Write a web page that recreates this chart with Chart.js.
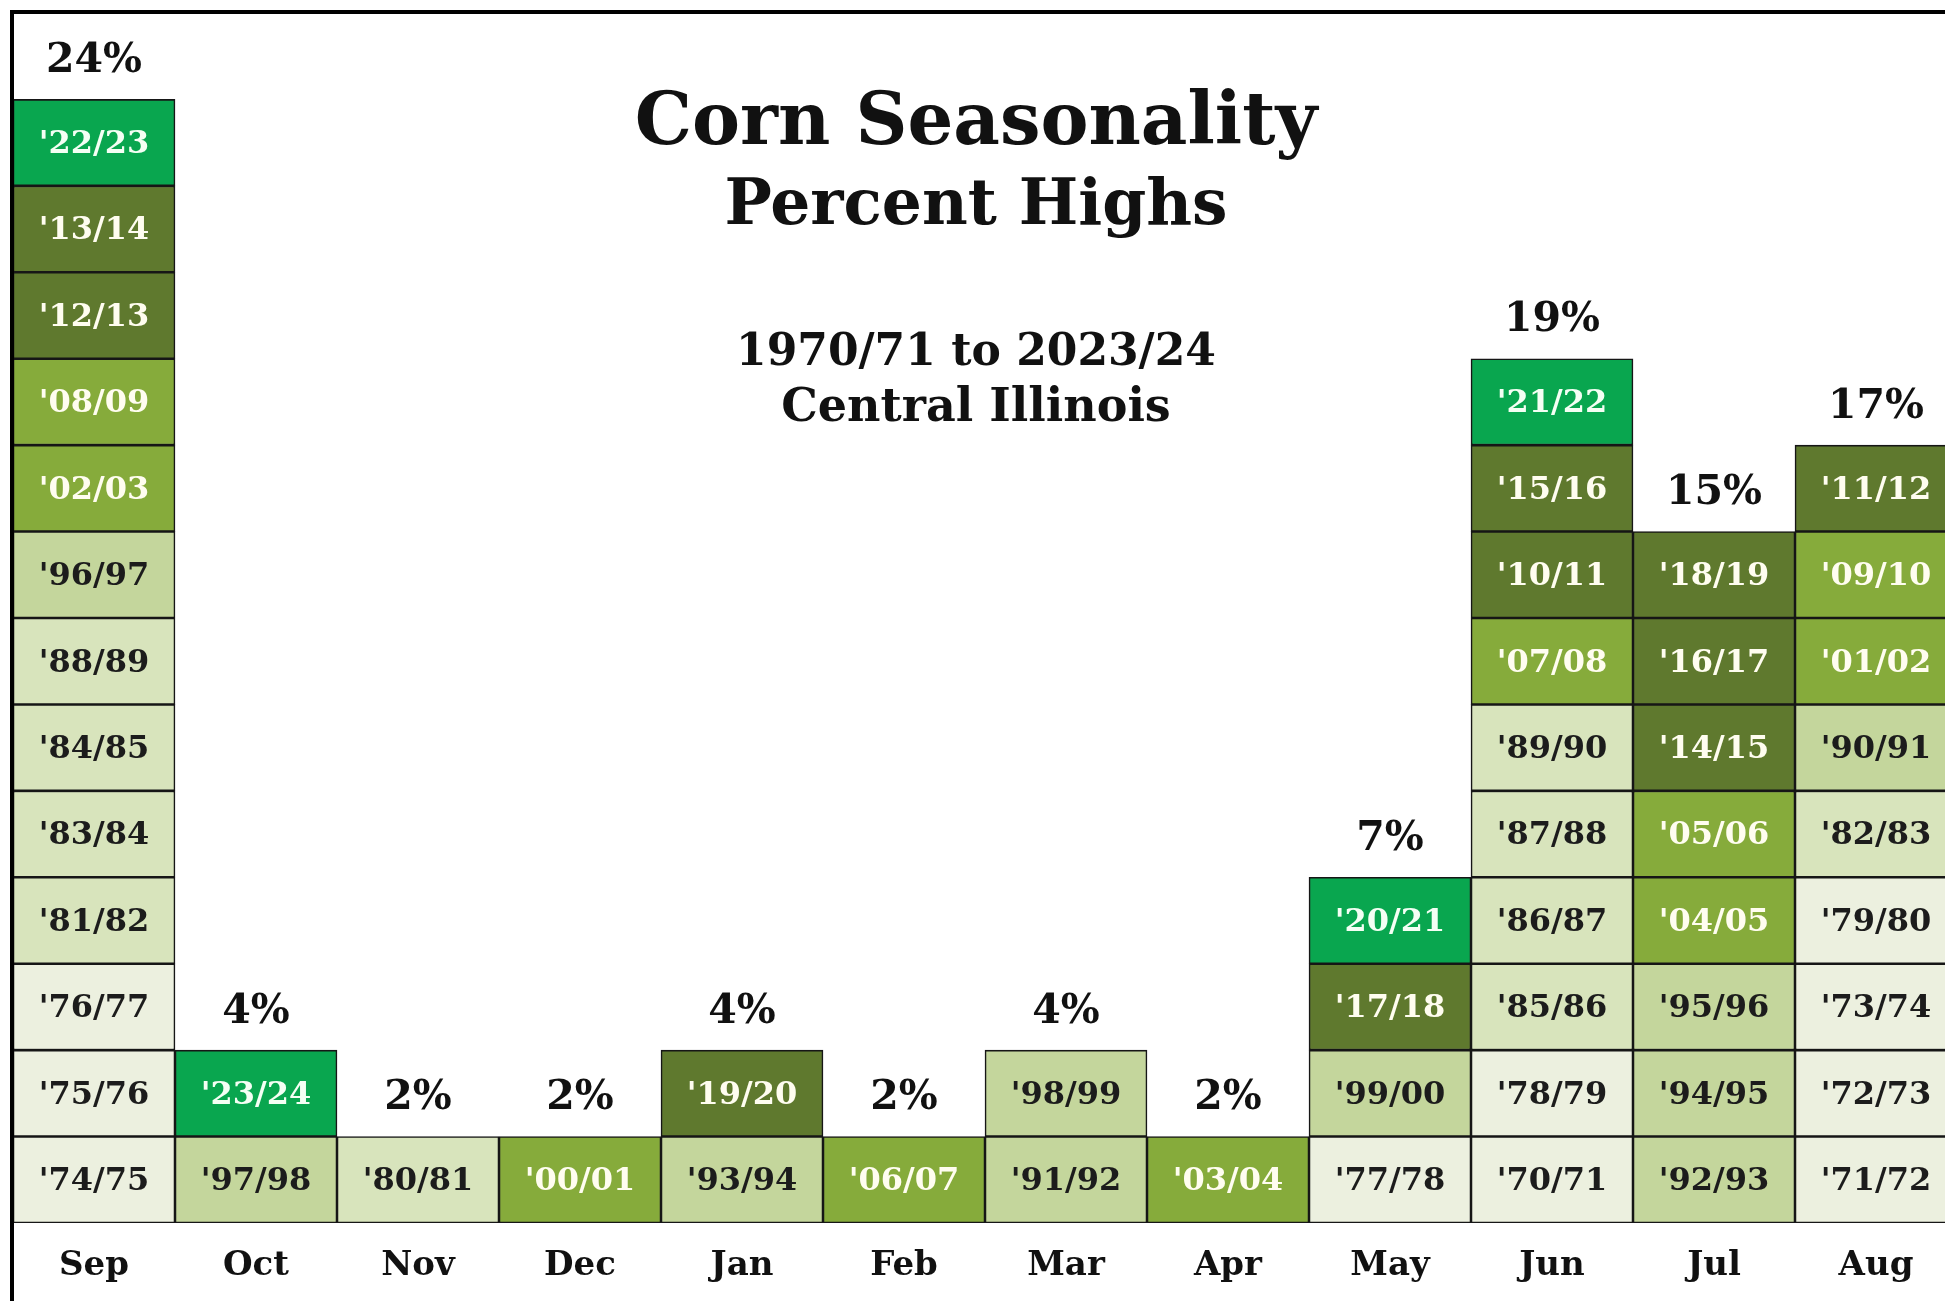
<!DOCTYPE html>
<html lang="en">
<head>
    <meta charset="UTF-8">
    <title>Corn Seasonality - Percent Highs</title>
    <script src="https://cdn.jsdelivr.net/npm/chart.js"></script>
    <style>
        html, body {
            margin: 0;
            padding: 0;
            background: #ffffff;
            overflow: hidden;
        }
        .wrap {
            position: absolute;
            left: 0;
            top: 0;
            width: 1960px;
            height: 1301px;
        }
    </style>
</head>
<body>
    <div class="wrap">
        <canvas id="seasonChart"></canvas>
    </div>

    <script>
        // months of the marketing year, Sep..Aug
        const months = ["Sep", "Oct", "Nov", "Dec", "Jan", "Feb", "Mar", "Apr", "May", "Jun", "Jul", "Aug"];

        // crop years whose high came in each month, bottom cell first
        const sepYears = ["'74/75", "'75/76", "'76/77", "'81/82", "'83/84", "'84/85", "'88/89", "'96/97", "'02/03", "'08/09", "'12/13", "'13/14", "'22/23"];
        const octYears = ["'97/98", "'23/24"];
        const novYears = ["'80/81"];
        const decYears = ["'00/01"];
        const janYears = ["'93/94", "'19/20"];
        const febYears = ["'06/07"];
        const marYears = ["'91/92", "'98/99"];
        const aprYears = ["'03/04"];
        const mayYears = ["'77/78", "'99/00", "'17/18", "'20/21"];
        const junYears = ["'70/71", "'78/79", "'85/86", "'86/87", "'87/88", "'89/90", "'07/08", "'10/11", "'15/16", "'21/22"];
        const julYears = ["'92/93", "'94/95", "'95/96", "'04/05", "'05/06", "'14/15", "'16/17", "'18/19"];
        const augYears = ["'71/72", "'72/73", "'73/74", "'79/80", "'82/83", "'90/91", "'01/02", "'09/10", "'11/12"];

        // percent of years with the high in that month
        const percentHighs = [24, 4, 2, 2, 4, 2, 4, 2, 7, 19, 15, 17];

        const titleLines = ["Corn Seasonality", "Percent Highs"];
        const subtitleLines = ["1970/71 to 2023/24", "Central Illinois"];

        const yearsByMonth = [sepYears, octYears, novYears, decYears, janYears, febYears,
                              marYears, aprYears, mayYears, junYears, julYears, augYears];

        // shade by decade of the crop year
        const decadeFill = { 1970: "#ECF0DF", 1980: "#D8E4BC", 1990: "#C4D69C", 2000: "#86AB3B", 2010: "#5F792E", 2020: "#09A64F" };
        const decadeText = { 1970: "#1c1c1c", 1980: "#1c1c1c", 1990: "#1c1c1c", 2000: "#FFFDF0", 2010: "#FFFDF0", 2020: "#F4FFF4" };

        function decadeOf(label) {
            const yy = parseInt(label.substring(1, 3), 10);
            const year = yy >= 70 ? 1900 + yy : 2000 + yy;
            return Math.floor(year / 10) * 10;
        }

        const FONT = "'DejaVu Serif', 'Liberation Serif', serif";
        const maxCells = Math.max(...yearsByMonth.map(y => y.length));

        // one dataset per stack level
        const datasets = [];
        for (let r = 0; r < maxCells; r++) {
            datasets.push({
                label: "level " + (r + 1),
                data: yearsByMonth.map(y => (y.length > r ? 1 : null)),
                cellText: yearsByMonth.map(y => (y.length > r ? y[r] : "")),
                backgroundColor: yearsByMonth.map(y => (y.length > r ? decadeFill[decadeOf(y[r])] : "transparent")),
                borderColor: "#161616",
                borderWidth: 1.6,
                borderSkipped: false,
                barPercentage: 1.0,
                categoryPercentage: 1.0
            });
        }

        const cellLabels = {
            id: "cellLabels",
            beforeDraw(chart) {
                const ctx = chart.ctx;
                ctx.save();
                ctx.fillStyle = "#ffffff";
                ctx.fillRect(0, 0, chart.width, chart.height);
                ctx.restore();
            },
            afterDatasetsDraw(chart) {
                const ctx = chart.ctx;
                const yScale = chart.scales.y;
                ctx.save();
                ctx.textAlign = "center";
                ctx.textBaseline = "middle";

                // year labels in each cell
                ctx.font = "bold 32px " + FONT;
                chart.data.datasets.forEach((ds, di) => {
                    const meta = chart.getDatasetMeta(di);
                    meta.data.forEach((bar, i) => {
                        const txt = ds.cellText[i];
                        if (!txt) return;
                        ctx.fillStyle = decadeText[decadeOf(txt)];
                        ctx.fillText(txt, bar.x, (bar.y + bar.base) / 2 + 2);
                    });
                });

                // percent above each column
                ctx.font = "bold 41px " + FONT;
                ctx.fillStyle = "#111111";
                const meta0 = chart.getDatasetMeta(0);
                percentHighs.forEach((p, i) => {
                    const top = yScale.getPixelForValue(yearsByMonth[i].length);
                    ctx.fillText(p + "%", meta0.data[i].x, top - 38);
                });

                // titles
                ctx.font = "bold 72px " + FONT;
                ctx.fillText(titleLines[0], 976, 125);
                ctx.font = "bold 63px " + FONT;
                ctx.fillText(titleLines[1], 976, 208);
                ctx.font = "bold 44px " + FONT;
                ctx.fillText(subtitleLines[0], 976, 354);
                ctx.font = "bold 46px " + FONT;
                ctx.fillText(subtitleLines[1], 976, 409);

                // frame
                ctx.fillStyle = "#000000";
                ctx.fillRect(10, 10, chart.width, 4);
                ctx.fillRect(10, 10, 4, chart.height);
                ctx.restore();
            }
        };

        const ctx = document.getElementById("seasonChart").getContext("2d");
        new Chart(ctx, {
            type: "bar",
            data: {
                labels: months,
                datasets: datasets
            },
            options: {
                responsive: true,
                maintainAspectRatio: false,
                animation: false,
                layout: {
                    padding: { left: 13, top: 13, right: 3, bottom: 0 }
                },
                plugins: {
                    legend: { display: false },
                    tooltip: { enabled: false },
                    title: { display: false }
                },
                scales: {
                    x: {
                        stacked: true,
                        grid: { display: false, drawTicks: false },
                        border: { display: false },
                        ticks: {
                            color: "#111111",
                            padding: 23,
                            font: { family: FONT, size: 34, weight: "bold" }
                        },
                        afterFit(scale) { scale.height = 78; }
                    },
                    y: {
                        stacked: true,
                        display: false,
                        min: 0,
                        max: 14
                    }
                }
            },
            plugins: [cellLabels]
        });
    </script>
</body>
</html>
